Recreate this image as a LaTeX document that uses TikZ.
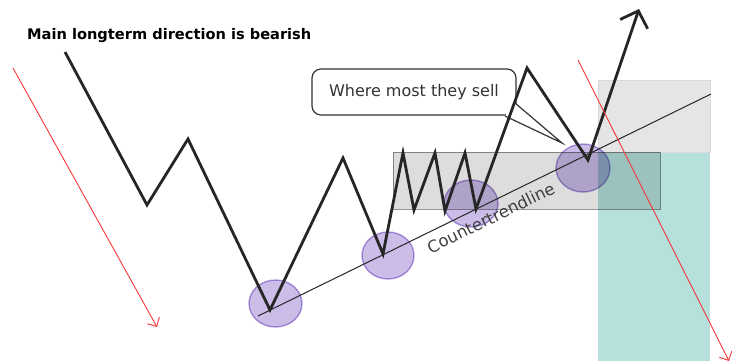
\documentclass[tikz,border=0pt]{standalone}
\usepackage{fontspec}
\setmainfont{DejaVu Sans}
\usetikzlibrary{arrows.meta}

\definecolor{zonateal}{RGB}{181,224,220}
\definecolor{grisclaro}{RGB}{228,229,231}
\definecolor{grismedio}{RGB}{221,221,221}
\definecolor{grisborde}{RGB}{150,150,150}
\definecolor{toquefill}{RGB}{203,188,232}
\definecolor{toqueborde}{RGB}{178,160,222}
\definecolor{rojo}{RGB}{245,55,55}

\begin{document}
\begin{tikzpicture}[x=1pt,y=-1pt,
    precio/.style={line width=2.8pt,draw=black!85,-{Straight Barb[length=14pt,width=29pt]}},
    toque/.style={fill=toquefill,draw=toqueborde,line width=1.4pt},
    flecharoja/.style={draw=rojo,line width=0.9pt,-{Straight Barb[length=7pt,width=14pt]}},
    globo/.style={draw=black!80,line width=1.2pt,fill=white,rounded corners=9pt,
      minimum width=204pt,minimum height=46pt,inner sep=0pt,font=\fontsize{16}{19}\selectfont,text=black!80}]
  \useasboundingbox (0,0) rectangle (732,364);

  % Puntos del precio
  \coordinate (p0) at (65,52);
  \coordinate (p1) at (147,205);
  \coordinate (p2) at (188,139);
  \coordinate (p3) at (270,310);
  \coordinate (p4) at (343,158);
  \coordinate (p5) at (383,254);
  \coordinate (p6) at (403,153);
  \coordinate (p7) at (414,210);
  \coordinate (p8) at (435,153);
  \coordinate (p9) at (445,211);
  \coordinate (p10) at (465,153);
  \coordinate (p11) at (476,209);
  \coordinate (p12) at (527,68);
  \coordinate (p13) at (588,160);
  \coordinate (p14) at (639,9);

  % Zonas
  \fill[zonateal] (598,152) rectangle (710,361);
  \filldraw[fill=grisclaro,draw=black!15] (598,80) rectangle (710,152);
  \begin{scope}[blend mode=multiply]
    \filldraw[fill=grismedio,draw=grisborde] (393,152) rectangle (660,209);
    % Toques en la linea
    \draw[toque] (275.5,303.5) ellipse (26.5pt and 23.5pt);
    \draw[toque] (388,255.5) ellipse (26pt and 23.5pt);
    \draw[toque] (471,203.5) ellipse (27pt and 23.5pt);
    \draw[toque] (583,168) ellipse (27pt and 24pt);
  \end{scope}

  % Linea de contratendencia
  \coordinate (t0) at (258,316);
  \coordinate (t1) at (711,94);
  \draw[black!85,line width=1pt] (t0) -- node[pos=0.5,sloped,below=4pt,
    font=\fontsize{16.5}{19}\selectfont,text=black!75] (etiqueta) {Countertrendline} (t1);

  % Globo
  \node[globo] (globo) at (414,92) {Where most they sell};
  \coordinate (punta) at (562,143);
  \fill[white] (515,103) -- (punta) -- (505,116) -- cycle;
  \draw[black!80,line width=1.2pt] (515,103) -- (punta) -- (505,116);

  % Precio
  \draw[precio] (p0) \foreach \i in {1,...,14} {-- (p\i)};

  % Flechas rojas
  \coordinate (r0) at (13,68);
  \coordinate (r1) at (157,327);
  \coordinate (r2) at (578,60);
  \coordinate (r3) at (729,361);
  \draw[flecharoja] (r0) -- (r1);
  \draw[flecharoja] (r2) -- (r3);

  % Titulo
  \node[anchor=base west,inner sep=0pt,font=\bfseries\fontsize{14.6}{17}\selectfont] (titulo)
    at (27,39) {Main longterm direction is bearish};
\end{tikzpicture}
\end{document}
